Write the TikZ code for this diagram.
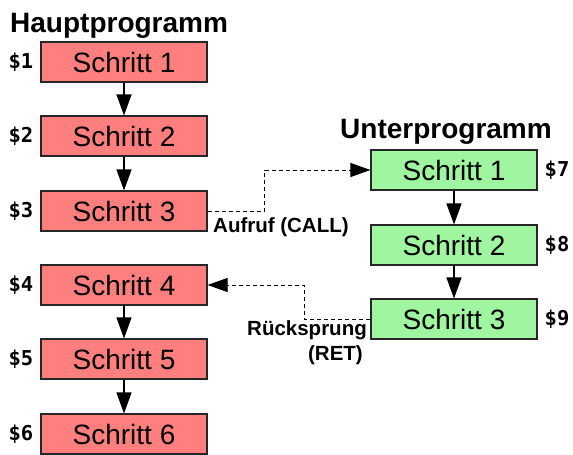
\documentclass[tikz,border=0pt]{standalone}
\usepackage{fontspec}
\setmainfont{Liberation Sans}
\newfontfamily\adrfont{DejaVu Sans Mono}
\usepackage{tikz}
\usetikzlibrary{positioning,arrows.meta}
\definecolor{hauptred}{HTML}{FF7F7F}
\definecolor{untergreen}{HTML}{A0F5A0}
\tikzset{
  schrittbox/.style={draw=black!85, line width=1.1pt, minimum width=166pt, minimum height=40pt,
    inner sep=0pt, font=\fontsize{28}{30}\selectfont},
  adr/.style={font=\adrfont\bfseries\fontsize{20.5}{22}\selectfont, inner sep=0pt},
  titel/.style={font=\bfseries\fontsize{28}{30}\selectfont, inner sep=0pt, anchor=base west},
  marke/.style={font=\bfseries\fontsize{20.5}{22}\selectfont, inner sep=0pt},
  flow/.style={line width=1.1pt, -{Triangle[length=21pt,width=15pt]}},
  call/.style={line width=1pt, dash pattern=on 4pt off 3pt, -{Triangle[length=20pt,width=14pt]}}
}

\begin{document}
\begin{tikzpicture}[x=1pt,y=-1pt]
  \useasboundingbox (0,0) rectangle (573,455);
  \clip (0,0) rectangle (573,455);
  % Hauptprogramm
  \node[titel] (haupt) at (10,32) {Hauptprogramm};
  \node[schrittbox, fill=hauptred] (h1) at (124,62) {Schritt 1};
  \node[schrittbox, fill=hauptred] (h2) at (124,136) {Schritt 2};
  \node[schrittbox, fill=hauptred] (h3) at (124,211) {Schritt 3};
  \node[schrittbox, fill=hauptred] (h4) at (124,285) {Schritt 4};
  \node[schrittbox, fill=hauptred] (h5) at (124,359) {Schritt 5};
  \node[schrittbox, fill=hauptred] (h6) at (124,434) {Schritt 6};
  \node[adr] (a1) at (21,62) {\$1};
  \node[adr] (a2) at (21,136) {\$2};
  \node[adr] (a3) at (21,211) {\$3};
  \node[adr] (a4) at (21,285) {\$4};
  \node[adr] (a5) at (21,359) {\$5};
  \node[adr] (a6) at (21,434) {\$6};
  % Unterprogramm
  \node[titel] (unter) at (340,138) {Unterprogramm};
  \node[schrittbox, fill=untergreen] (u1) at (454,170) {Schritt 1};
  \node[schrittbox, fill=untergreen] (u2) at (454,245) {Schritt 2};
  \node[schrittbox, fill=untergreen] (u3) at (454,319) {Schritt 3};
  \node[adr] (a7) at (557,170) {\$7};
  \node[adr] (a8) at (557,245) {\$8};
  \node[adr] (a9) at (557,319) {\$9};
  % Ablauf
  \draw[flow] (h1) -- (h2);
  \draw[flow] (h2) -- (h3);
  \draw[flow] (h4) -- (h5);
  \draw[flow] (h5) -- (h6);
  \draw[flow] (u1) -- (u2);
  \draw[flow] (u2) -- (u3);
  % Aufruf und Ruecksprung
  \draw[call] (h3.east) -- ++(57,0) |- (u1.west);
  \draw[call] (u3.west) -- ++(-66,0) |- (h4.east);
  \node[marke, anchor=base west] (aufruf) at (213,232) {Aufruf (CALL)};
  \node[marke, anchor=base east] (rueck) at (367,335) {Rücksprung};
  \node[marke, anchor=base east] (ret) at (363,360) {(RET)};
\end{tikzpicture}
\end{document}
